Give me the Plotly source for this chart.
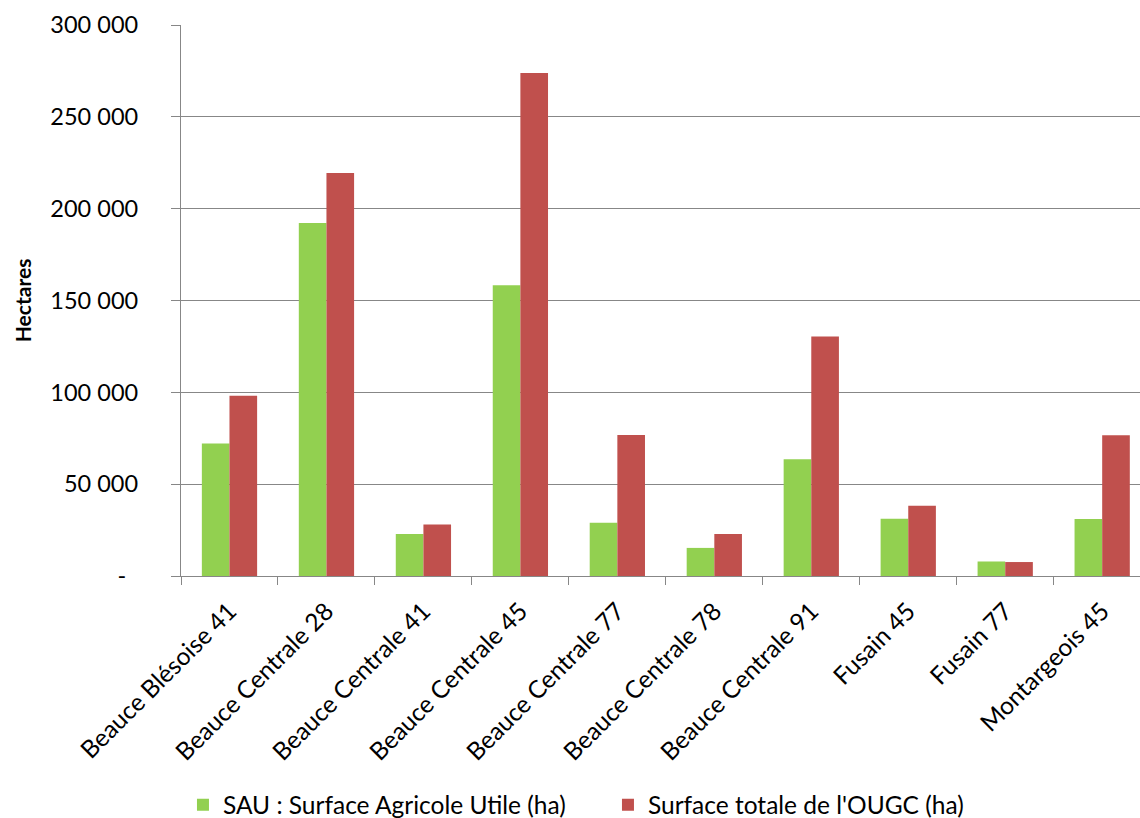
import plotly.graph_objects as go

# OUGC areas (hectares)
categories = [
    "Beauce Blésoise 41", "Beauce Centrale 28", "Beauce Centrale 41",
    "Beauce Centrale 45", "Beauce Centrale 77", "Beauce Centrale 78",
    "Beauce Centrale 91", "Fusain 45", "Fusain 77", "Montargeois 45",
]
sau_ha = [72200, 192200, 22900, 158300, 29000, 15300, 63600, 31200, 7900, 31000]
total_ha = [98100, 219400, 28100, 273900, 76800, 22900, 130400, 38300, 7600, 76600]

sau_name = "SAU : Surface Agricole Utile (ha)"
total_name = "Surface totale de l'OUGC (ha)"

y_tickvals = [0, 50000, 100000, 150000, 200000, 250000, 300000]
y_ticktext = ["-\u00a0\u00a0", "50 000", "100 000", "150 000", "200 000", "250 000", "300 000"]

FONT = "Lato, 'Open Sans', sans-serif"
GRID = "#878787"

fig = go.Figure()
fig.add_trace(go.Bar(x=categories, y=sau_ha, name=sau_name,
                     marker=dict(color="#92D050", line=dict(width=0))))
fig.add_trace(go.Bar(x=categories, y=total_ha, name=total_name,
                     marker=dict(color="#C0504D", line=dict(width=0))))

fig.update_layout(
    width=1140, height=818,
    margin=dict(l=181, r=0, t=25, b=242),
    paper_bgcolor="white", plot_bgcolor="white",
    barmode="group", bargap=0.43, bargroupgap=0,
    font=dict(family=FONT, size=23, color="#000000"),
    showlegend=True,
    legend=dict(orientation="h",
                xref="container", x=0.1605, xanchor="left",
                yref="container", y=0.016, yanchor="middle",
                font=dict(size=24.5), itemwidth=30,
                entrywidth=380, entrywidthmode="pixels"),
    annotations=[dict(
        text="<b>Hectares</b>", textangle=-90,
        xref="paper", x=-0.165, xanchor="center",
        yref="paper", y=0.5, yanchor="middle",
        showarrow=False, font=dict(size=21),
    )],
)

fig.update_xaxes(
    type="category", range=[-0.5, 9.39],
    tickangle=-45, tickson="boundaries",
    ticks="outside", ticklen=8, tickwidth=1.3, tickcolor=GRID,
    showline=True, linecolor=GRID, linewidth=1.3,
    showgrid=False, tickfont=dict(size=24.5), ticklabelstandoff=10,
)
fig.update_yaxes(
    range=[0, 300000], tickvals=y_tickvals, ticktext=y_ticktext,
    ticks="outside", ticklen=9, tickwidth=1.3, tickcolor=GRID,
    showline=True, linecolor=GRID, linewidth=1.3,
    showgrid=True, gridcolor=GRID, gridwidth=1.3,
    zeroline=False, ticklabelstandoff=28,
    tickfont=dict(size=23.5),
)

fig.write_html("out.html")
